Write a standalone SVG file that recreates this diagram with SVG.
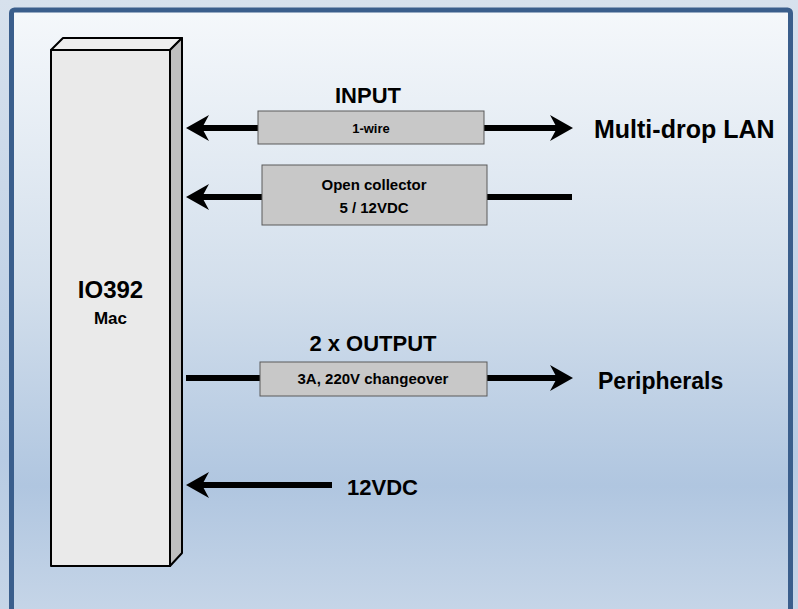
<svg xmlns="http://www.w3.org/2000/svg" width="798" height="609" viewBox="0 0 798 609">
  <defs>
    <linearGradient id="outerBg" x1="0" y1="0" x2="0" y2="1">
      <stop offset="0" stop-color="#d7e1ed"/>
      <stop offset="0.75" stop-color="#b7cbe3"/>
      <stop offset="1" stop-color="#c6d5e7"/>
    </linearGradient>
    <linearGradient id="innerBg" x1="0" y1="0" x2="0" y2="1">
      <stop offset="0" stop-color="#f5f8fb"/>
      <stop offset="0.45" stop-color="#d3dfec"/>
      <stop offset="0.78" stop-color="#b0c6e0"/>
      <stop offset="1" stop-color="#c7d6e8"/>
    </linearGradient>
    <marker id="arrow" viewBox="0 0 23 26" refX="7" refY="13" markerWidth="23" markerHeight="26" markerUnits="userSpaceOnUse" orient="auto-start-reverse">
      <path d="M23,13 L0,0 L7,13 L0,26 Z" fill="#000"/>
    </marker>
  </defs>
  <style>
    .big { font-family: "Liberation Sans", Arial, sans-serif; font-weight: bold; font-size: 22px; fill: #000; }
    .small { font-family: "Liberation Sans", Arial, sans-serif; font-weight: bold; font-size: 15px; fill: #000; }
    .conn { stroke: #000; stroke-width: 6; fill: none; }
    .box { fill: #c8c8c8; stroke: #5a5a5a; stroke-width: 1; }
    .edge { stroke: #000; stroke-width: 2; stroke-linejoin: round; }
  </style>

  <rect x="0" y="0" width="798" height="609" fill="url(#outerBg)"/>
  <rect x="11.5" y="10" width="779" height="610" rx="3" fill="url(#innerBg)" stroke="#3a5e8c" stroke-width="5"/>

  <g id="io392">
    <rect x="51" y="50" width="119" height="516" fill="#eaeaea" class="edge"/>
    <polygon points="51,50 63,38 182,38 170,50" fill="#eeeeee" class="edge"/>
    <polygon points="170,50 182,38 182,553 170,566" fill="#bfbfbf" class="edge"/>
    <text class="big" x="110.5" y="298" text-anchor="middle" style="font-size:24px">IO392</text>
    <text class="big" x="110.5" y="324" text-anchor="middle" style="font-size:17px">Mac</text>
  </g>

  <g id="connectors">
    <line class="conn" x1="202" y1="128" x2="557" y2="128" marker-start="url(#arrow)" marker-end="url(#arrow)"/>
    <line class="conn" x1="572" y1="197" x2="202" y2="197" marker-end="url(#arrow)"/>
    <line class="conn" x1="186" y1="378" x2="557" y2="378" marker-end="url(#arrow)"/>
    <line class="conn" x1="332" y1="485" x2="202" y2="485" marker-end="url(#arrow)"/>
  </g>

  <g id="input-1wire">
    <rect class="box" x="258" y="111" width="226" height="33"/>
    <text class="small" x="371" y="133" text-anchor="middle" style="font-size:13px">1-wire</text>
  </g>
  <g id="input-opencollector">
    <rect class="box" x="262" y="165" width="225" height="60"/>
    <text class="small" x="374" y="190" text-anchor="middle">Open collector</text>
    <text class="small" x="374" y="213" text-anchor="middle">5 / 12VDC</text>
  </g>
  <g id="output-relay">
    <rect class="box" x="260" y="362" width="227" height="34"/>
    <text class="small" x="373" y="384" text-anchor="middle">3A, 220V changeover</text>
  </g>

  <g id="labels">
    <text class="big" x="368" y="103" text-anchor="middle">INPUT</text>
    <text class="big" x="373" y="351" text-anchor="middle">2 x OUTPUT</text>
    <text class="big" x="594" y="138" style="font-size:25px">Multi-drop LAN</text>
    <text class="big" x="598" y="389" style="font-size:23px">Peripherals</text>
    <text class="big" x="347" y="495">12VDC</text>
  </g>
</svg>
